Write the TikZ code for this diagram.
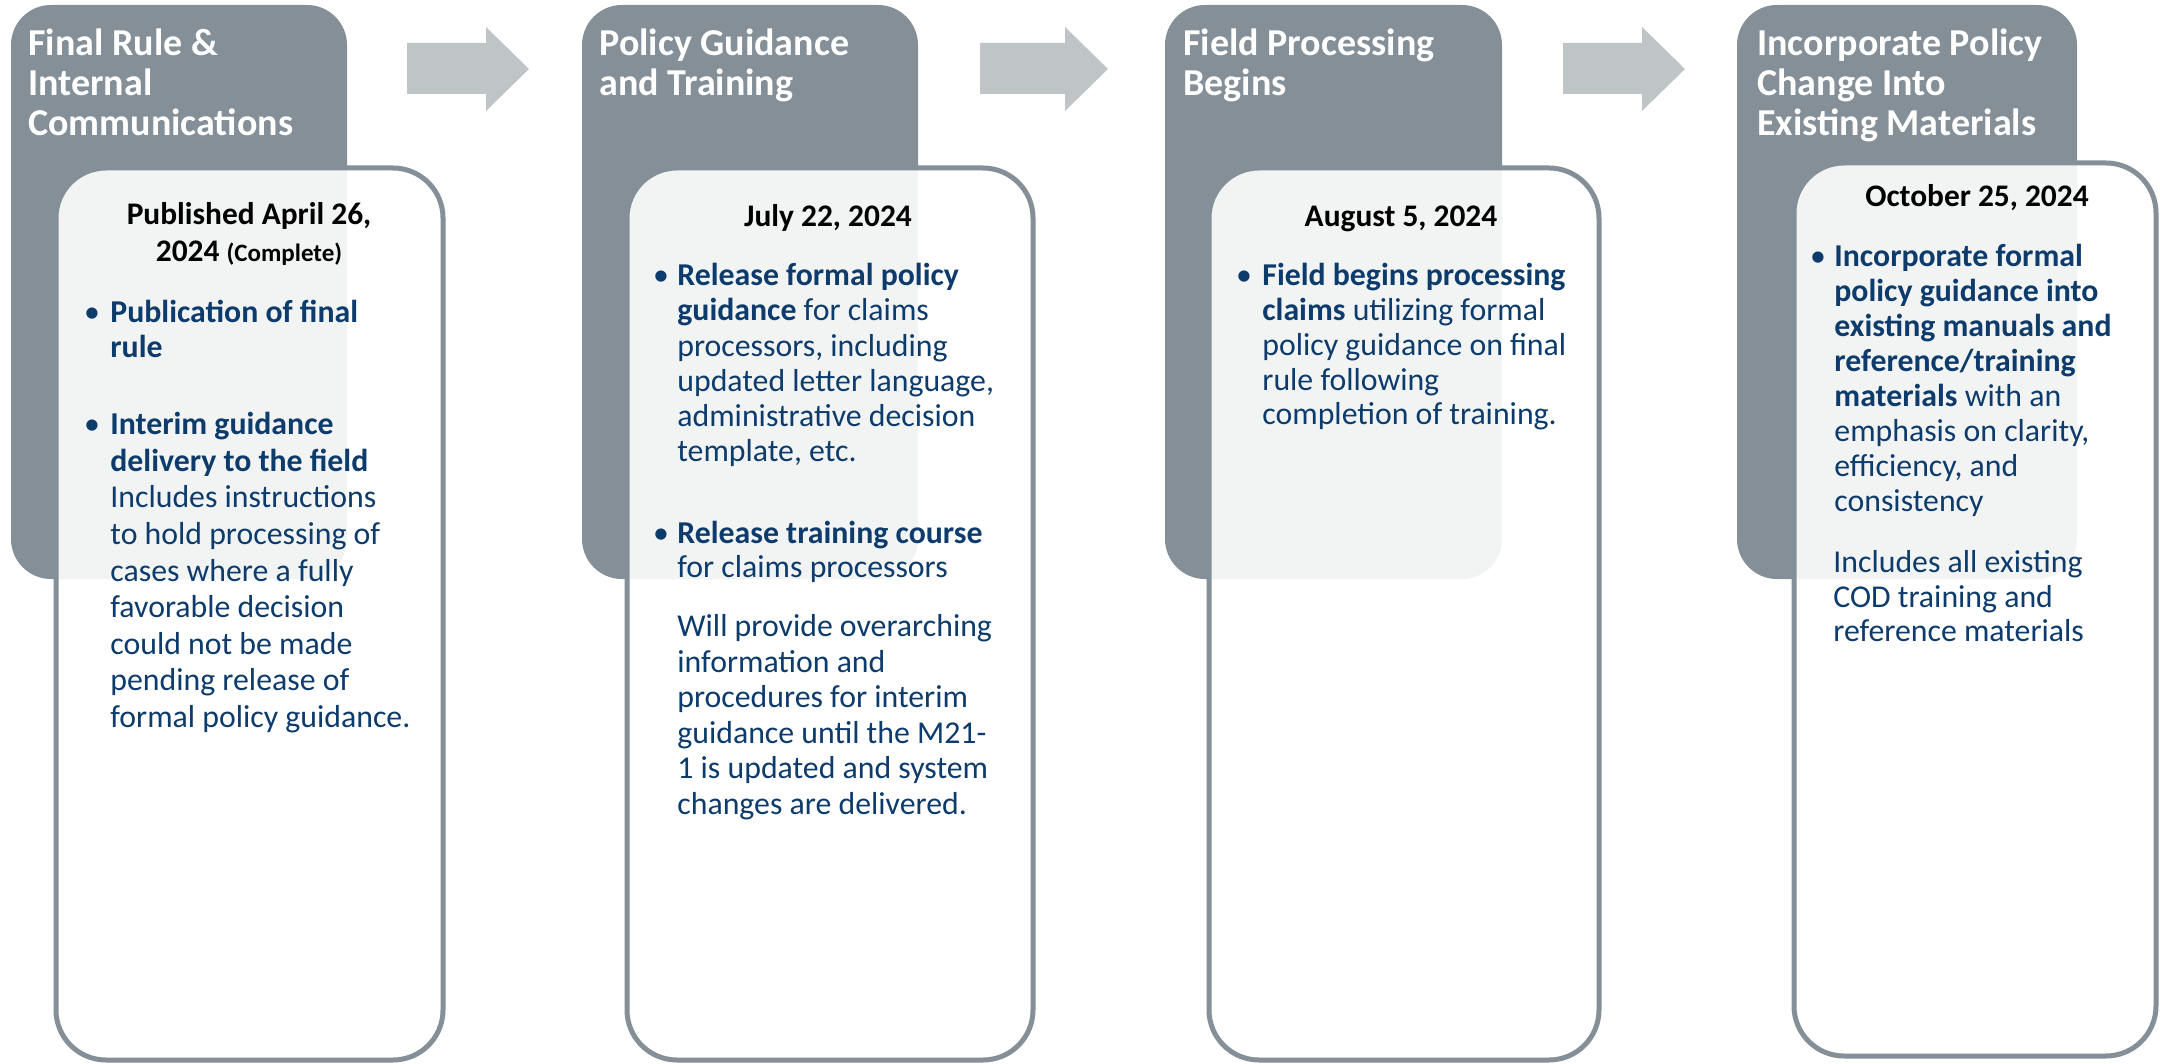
\documentclass[tikz,border=0pt]{standalone}
\usepackage{fontspec}
\setmainfont{Carlito}
\definecolor{headgray}{RGB}{132,143,151}
\definecolor{arrowgray}{RGB}{191,197,199}
\definecolor{textblue}{RGB}{13,59,107}
\begin{document}
\begin{tikzpicture}
	[x=0.5pt,y=-0.5pt,
	 headbox/.style={fill=headgray,rounded corners=20pt},
	 cardbox/.style={draw=headgray,line width=2.5pt,fill=white,fill opacity=0.9,rounded corners=25pt},
	 flowarrow/.style={fill=arrowgray},
	 title/.style={anchor=north west,align=left,inner sep=0pt,text=white,
	   font=\fontsize{19}{20}\selectfont\bfseries,execute at begin node=\strut},
	 datelabel/.style={anchor=north,align=center,inner sep=0pt,
	   font=\fontsize{15.7}{18.5}\selectfont\bfseries,execute at begin node=\strut},
	 bodytext/.style={anchor=north west,align=left,inner sep=0pt,text=textblue,
	   font=\fontsize{15.9}{17.6}\selectfont,execute at begin node=\strut},
	 dotlabel/.style={inner sep=0pt,text=textblue,font=\fontsize{15.9}{17.6}\selectfont}]
\useasboundingbox (0,0) rectangle (2160,1064);
% panels first, cards laid over them
\foreach \xa/\xb in {11/347,582/918,1165/1502,1737/2077}
\fill[headbox] (\xa,5) rectangle (\xb,579);
\foreach \xa/\xb/\ya/\yb in {56/443/168/1060,627/1033/168/1060,1209/1599/168/1060,1794/2156/163/1056}
\draw[cardbox] (\xa,\ya) rectangle (\xb,\yb);
\foreach \xa/\xb in {407/529,980/1108,1563/1685}
\fill[flowarrow] (\xa,43) -- (\xb-43,43) -- (\xb-43,27) -- (\xb,69) -- (\xb-43,111) -- (\xb-43,94) -- (\xa,94) -- cycle;

\node[title] (t1) at (28,28) {Final Rule \&\\Internal\\Communications};
\node[title] (t2) at (599,28) {Policy Guidance\\and Training};
\node[title] (t3) at (1183,28) {Field Processing\\Begins};
\node[title] (t4) at (1757,28) {Incorporate Policy\\Change Into\\Existing Materials};

% stage 1
\node[datelabel] (d1) at (249,202) {Published April 26,\\2024 {\fontsize{12.5}{14}\selectfont (Complete)}};
\node[dotlabel] (b11) at (92,315) {\textbullet};
\node[bodytext] (p11) at (110,300) {\textbf{Publication of final}\\\textbf{rule}};
\node[dotlabel] (b12) at (92,427) {\textbullet};
\node[bodytext,font=\fontsize{15.9}{18.3}\selectfont] (p12) at (110,412)
  {\textbf{Interim guidance}\\\textbf{delivery to the field}\\Includes instructions\\to hold processing of\\cases where a fully\\favorable decision\\could not be made\\pending release of\\formal policy guidance.};

% stage 2
\node[datelabel] (d2) at (828,200) {July 22, 2024};
\node[dotlabel] (b21) at (661,278) {\textbullet};
\node[bodytext] (p21) at (677,263)
  {\textbf{Release formal policy}\\\textbf{guidance} for claims\\processors, including\\updated letter language,\\administrative decision\\template, etc.};
\node[dotlabel] (b22) at (661,536) {\textbullet};
\node[bodytext,font=\fontsize{15.9}{17}\selectfont] (p22) at (677,521) {\textbf{Release training course}\\for claims processors};
\node[bodytext,font=\fontsize{15.9}{17.8}\selectfont] (p23) at (677,614)
  {Will provide overarching\\information and\\procedures for interim\\guidance until the M21-\\1 is updated and system\\changes are delivered.};

% stage 3
\node[datelabel] (d3) at (1401,200) {August 5, 2024};
\node[dotlabel] (b31) at (1244,278) {\textbullet};
\node[bodytext,font=\fontsize{15.9}{17.4}\selectfont] (p31) at (1262,263)
  {\textbf{Field begins processing}\\\textbf{claims} utilizing formal\\policy guidance on final\\rule following\\completion of training.};

% stage 4
\node[datelabel] (d4) at (1977,180) {October 25, 2024};
\node[dotlabel] (b41) at (1818,259) {\textbullet};
\node[bodytext,font=\fontsize{15.9}{17.5}\selectfont] (p41) at (1834,244)
  {\textbf{Incorporate formal}\\\textbf{policy guidance into}\\\textbf{existing manuals and}\\\textbf{reference/training}\\\textbf{materials} with an\\emphasis on clarity,\\efficiency, and\\consistency};
\node[bodytext,font=\fontsize{15.9}{17.3}\selectfont] (p42) at (1833,550)
  {Includes all existing\\COD training and\\reference materials};
\end{tikzpicture}
\end{document}
